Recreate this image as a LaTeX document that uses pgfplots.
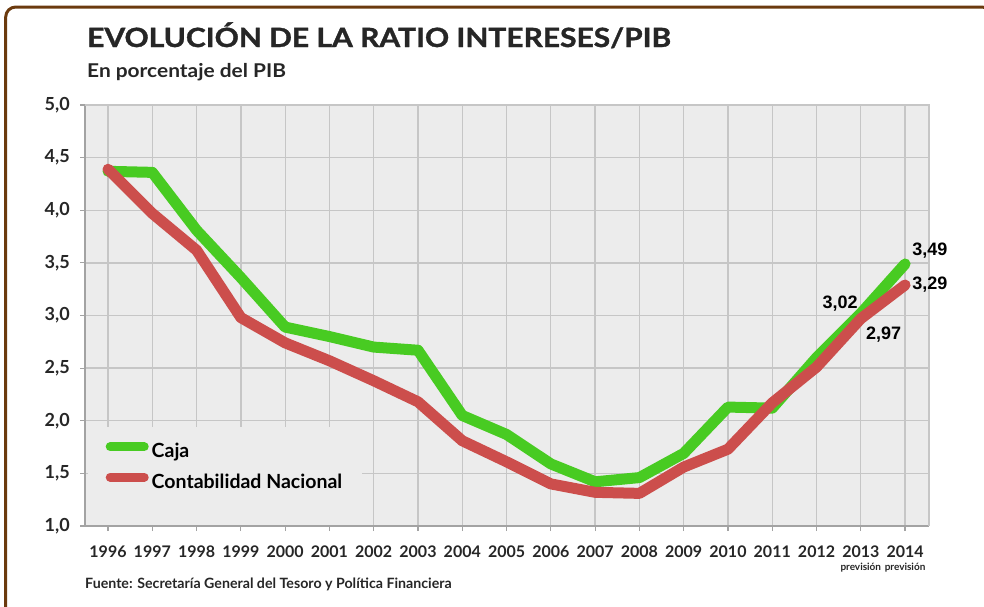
\documentclass[border=0pt]{standalone}
\usepackage{fontspec}
\usepackage{graphicx}
\setmainfont{Lato}
\newfontfamily\arialfont{Liberation Sans}
\usepackage{pgfplots}
\pgfplotsset{compat=1.18}
\definecolor{cajagreen}{HTML}{48CB22}
\definecolor{cnred}{HTML}{CC4E4C}
\definecolor{plotbg}{HTML}{ECECEC}
\definecolor{gridgray}{HTML}{C6C6C6}
\definecolor{axdark}{HTML}{A3A3A3}
\definecolor{framebrown}{HTML}{6B3A0E}
\definecolor{txt}{HTML}{262626}

\pgfplotstableread{
year caja cn
1996 4.37 4.39
1997 4.36 3.97
1998 3.81 3.62
1999 3.36 2.98
2000 2.89 2.74
2001 2.80 2.57
2002 2.70 2.38
2003 2.67 2.18
2004 2.05 1.81
2005 1.87 1.61
2006 1.59 1.40
2007 1.42 1.32
2008 1.46 1.31
2009 1.69 1.56
2010 2.13 1.73
2011 2.12 2.17
2012 2.60 2.51
2013 3.02 2.97
2014 3.49 3.29
}\ratio

\begin{document}
\begin{tikzpicture}
\useasboundingbox (0,0) rectangle (984bp,-607bp);
\begin{scope}
  \clip (0,0) rectangle (984bp,-607bp);
  \draw[framebrown, line width=3bp, rounded corners=10bp]
    (5.7bp,-700bp) -- (5.7bp,-7bp) -- (992bp,-7bp) -- (992bp,-700bp);
\end{scope}

\node[anchor=base west, inner sep=0pt, text=txt, font=\bfseries\fontsize{26.5bp}{26.5bp}\selectfont]
  at (87bp,-47bp) {\scalebox{1.13}[1]{\addfontfeatures{FakeBold=1.2}EVOLUCIÓN DE LA RATIO INTERESES/PIB}};
\node[anchor=base west, inner sep=0pt, text=txt, font=\bfseries\fontsize{19bp}{19bp}\selectfont]
  at (87bp,-77bp) {\scalebox{1.1}[1]{En porcentaje del PIB}};
\node[anchor=base west, inner sep=0pt, text=txt, font=\bfseries\fontsize{14.2bp}{14.2bp}\selectfont]
  at (85bp,-588bp) {Fuente: Secretaría General del Tesoro y Política Financiera};

\begin{axis}[
  at={(85bp,-526bp)}, anchor=south west,
  scale only axis, width=844bp, height=421bp,
  clip=false,
  xmin=1995.48, xmax=2014.54, ymin=1, ymax=5,
  xtick={1996,1997,1998,1999,2000,2001,2002,2003,2004,2005,2006,2007,2008,2009,2010,2011,2012,2013,2014},
  xticklabels={1996,1997,1998,1999,2000,2001,2002,2003,2004,2005,2006,2007,2008,2009,2010,2011,2012,
    {2013\\[-3bp]{\fontsize{10bp}{10bp}\selectfont previsión}},
    {2014\\[-3bp]{\fontsize{10bp}{10bp}\selectfont previsión}}},
  ytick={1,1.5,2,2.5,3,3.5,4,4.5,5},
  /pgf/number format/.cd, assume math mode=true, use comma, fixed, fixed zerofill, precision=1,
  /pgfplots/.cd,
  axis background/.style={fill=plotbg},
  grid=major, major grid style={gridgray, line width=1.3bp},
  axis line style={draw=none},
  tick align=outside, tick pos=left, major tick length=5bp,
  tick style={axdark, line width=1.2bp},
  xticklabel style={font=\bfseries\fontsize{16bp}{16bp}\selectfont, text=txt, align=center, inner sep=0pt, yshift=-15bp},
  yticklabel style={font=\bfseries\fontsize{18bp}{18bp}\selectfont, text=txt, inner sep=0pt, xshift=-10bp},
  legend image code/.code={\draw[#1, line width=9bp, line cap=round] (0bp,6.5bp) -- (34bp,6.5bp);},
  legend cell align=left,
  legend style={at={(rel axis cs:0.0243,0.1995)}, anchor=north west, draw=none, fill=none,
    inner sep=0pt, column sep=3bp, row sep=11bp,
    nodes={inner sep=0pt, text height=13bp, text depth=4bp, text=black},
    font=\bfseries\fontsize{19.5bp}{19.5bp}\selectfont},
]
\fill[plotbg] (rel axis cs:0.003,0.003) rectangle (rel axis cs:0.328,0.235);
\addplot[cajagreen, line width=11bp, line join=round, line cap=round] table[x=year, y=caja] {\ratio};
\addlegendentry{Caja}
\addplot[cnred, line width=11bp, line join=round, line cap=round] table[x=year, y=cn] {\ratio};
\addlegendentry{Contabilidad Nacional}
\draw[axdark, line width=1.5bp] (rel axis cs:0,1) -- (rel axis cs:0,0) -- (rel axis cs:1,0);
\draw[gridgray, line width=2bp] (rel axis cs:0,1) -- (rel axis cs:1,1) -- (rel axis cs:1,0);
\begin{scope}[every node/.style={inner sep=0pt, font=\arialfont\bfseries\fontsize{18bp}{18bp}\selectfont}]
\node[anchor=base west, xshift=7bp, yshift=8.4bp] at (axis cs:2014,3.49) {3,49};
\node[anchor=base west, xshift=7bp, yshift=-4.6bp] at (axis cs:2014,3.29) {3,29};
\node[anchor=base east, xshift=-3bp, yshift=5.4bp] at (axis cs:2013,3.02) {3,02};
\node[anchor=base west, xshift=5bp, yshift=-20.9bp] at (axis cs:2013,2.97) {2,97};
\end{scope}
\end{axis}
\end{tikzpicture}
\end{document}
